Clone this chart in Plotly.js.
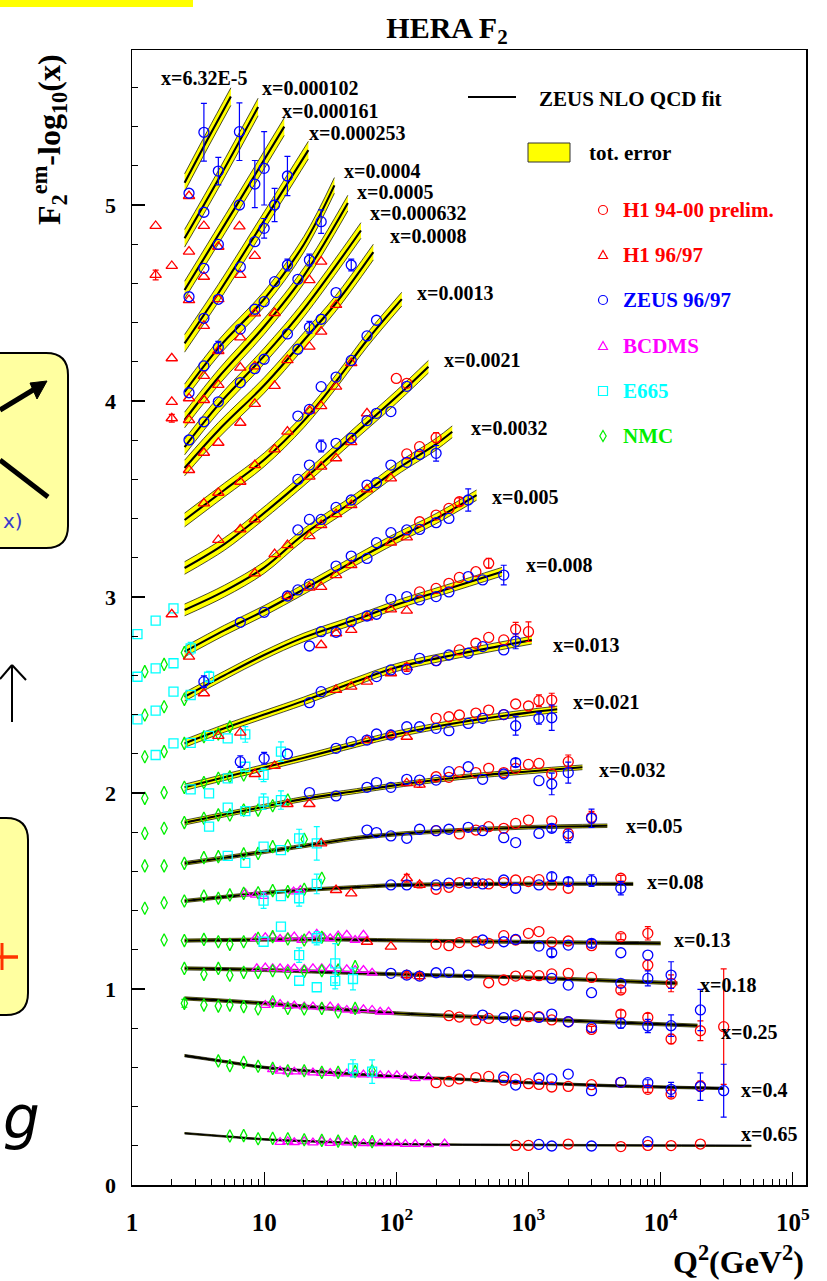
<!DOCTYPE html>
<html>
<head>
<meta charset="utf-8">
<script src="https://cdn.plot.ly/plotly-3.0.1.min.js"></script>
<style>
  html, body { margin: 0; padding: 0; background: #ffffff; }
  #chart { width: 827px; height: 1281px; }
</style>
</head>
<body>
<div id="chart"></div>
<script>
// ---------------- x bins (one fit curve each) ----------------
const xBins = ['6.32E-5', '0.000102', '0.000161', '0.000253', '0.0004', '0.0005', '0.000632', '0.0008',
  '0.0013', '0.0021', '0.0032', '0.005', '0.008', '0.013', '0.021', '0.032', '0.05', '0.08',
  '0.13', '0.18', '0.25', '0.4', '0.65'];

// ZEUS NLO QCD fit, F2 - log10(x) at selected Q2 (GeV^2) for each bin
const fitCurves = [
  [[2.5, 5.114], [3.7, 5.33], [5.6, 5.553]],
  [[2.5, 4.83], [4.5, 5.13], [9, 5.50]],
  [[2.5, 4.566], [6, 4.984], [14.2, 5.40]],
  [[2.5, 4.294], [4.5, 4.55], [10, 4.92], [21.6, 5.28]],
  [[2.5, 4.046], [4.5, 4.27], [10, 4.52], [20, 4.80], [34, 5.10]],
  [[2.5, 3.903], [4.5, 4.12], [10, 4.38], [20, 4.64], [43, 5.01]],
  [[2.5, 3.765], [4.5, 3.98], [10, 4.23], [20, 4.47], [54, 4.87]],
  [[2.5, 3.658], [4.5, 3.85], [10, 4.08], [20, 4.31], [35, 4.50], [67, 4.76]],
  [[2.5, 3.393], [5, 3.546], [10, 3.70], [20, 3.90], [35, 4.10], [60, 4.31], [110, 4.52]],
  [[2.5, 3.148], [5, 3.27], [8.5, 3.39], [20, 3.60], [50, 3.84], [100, 4.02], [175, 4.175]],
  [[2.5, 2.934], [5, 3.03], [10, 3.15], [20, 3.32], [50, 3.50], [100, 3.65], [200, 3.78], [265, 3.843]],
  [[2.5, 2.721], [5, 2.83], [10, 2.93], [20, 3.04], [50, 3.19], [100, 3.30], [200, 3.40], [405, 3.52]],
  [[2.5, 2.491], [5, 2.60], [10, 2.704], [20, 2.794], [50, 2.886], [100, 2.96], [240, 3.04], [630, 3.129]],
  [[2.5, 2.253], [5, 2.33], [10, 2.40], [20, 2.47], [50, 2.57], [100, 2.64], [300, 2.71], [1060, 2.78]],
  [[2.5, 2.029], [5, 2.08], [10, 2.13], [20, 2.18], [50, 2.25], [100, 2.30], [300, 2.36], [1000, 2.41], [1650, 2.427]],
  [[2.5, 1.849], [5, 1.89], [10, 1.93], [20, 1.97], [50, 2.01], [100, 2.04], [300, 2.08], [1000, 2.11], [2560, 2.131]],
  [[2.5, 1.641], [5, 1.67], [10, 1.70], [20, 1.73], [50, 1.77], [100, 1.79], [300, 1.81], [1000, 1.825], [3950, 1.833]],
  [[2.5, 1.449], [5, 1.47], [10, 1.49], [20, 1.505], [50, 1.52], [100, 1.53], [1000, 1.537], [6200, 1.536]],
  [[2.5, 1.247], [10, 1.252], [30, 1.253], [100, 1.248], [1000, 1.24], [10000, 1.233]],
  [[2.5, 1.105], [10, 1.097], [100, 1.075], [1000, 1.058], [13400, 1.029]],
  [[2.5, 0.952], [10, 0.927], [30, 0.901], [100, 0.876], [1000, 0.847], [19000, 0.813]],
  [[2.5, 0.66], [5, 0.63], [10, 0.60], [30, 0.575], [100, 0.553], [300, 0.54], [1000, 0.522], [5000, 0.505], [30000, 0.493]],
  [[2.5, 0.264], [5.5, 0.246], [10, 0.233], [26.5, 0.221], [100, 0.209], [1160, 0.204], [48600, 0.200]]
];

// half width of the total-error band of the fit, per bin
const bandHalfWidth = [0.045, 0.045, 0.045, 0.045, 0.04, 0.04, 0.04, 0.04, 0.035, 0.032, 0.03, 0.026, 0.022,
  0.02, 0.016, 0.012, 0.009, 0.008, 0.008, 0.008, 0.008, 0.006, 0.004];

// where each "x=..." label sits (left edge), in Q2 and F2 - log10(x)
const labelQ2 = [1.60, 9.3, 13.2, 21.2, 39, 48.9, 61.4, 87, 139, 222, 353, 515, 921, 1468, 2081, 3313, 5272,
  7560, 12270, 19300, 27700, 39200, 39200];
const labelY = [5.648, 5.597, 5.480, 5.367, 5.173, 5.066, 4.959, 4.842, 4.553, 4.209, 3.861, 3.512, 3.163,
  2.755, 2.466, 2.117, 1.833, 1.544, 1.250, 1.020, 0.782, 0.486, 0.259];

// ---------------- measurements: [Q2, F2 - log10(x), error] ----------------
const h1Prelim = [
  [800, 0.202], [1000, 0.202], [2000, 0.209], [5000, 0.196], [8000, 0.202], [12000, 0.201], [20000, 0.209],
  [200, 0.522], [250, 0.529], [300, 0.541], [400, 0.548], [500, 0.554], [650, 0.535], [800, 0.540], [1000, 0.517],
  [1200, 0.513], [1500, 0.500], [2000, 0.503], [3000, 0.512], [5000, 0.524], [8000, 0.488, 0.015], [12000, 0.464, 0.02], [20000, 0.505, 0.025],
  [250, 0.864], [300, 0.857], [400, 0.842], [500, 0.850], [800, 0.838], [1000, 0.859], [1200, 0.859], [1500, 0.842],
  [2000, 0.833], [3000, 0.794, 0.015], [5000, 0.872, 0.02], [8000, 0.855, 0.02], [12000, 0.745, 0.024], [20000, 0.787, 0.05], [30000, 0.808, 0.295],
  [500, 1.032], [650, 1.046], [800, 1.066], [1000, 1.068], [1200, 1.068], [1500, 1.077], [2000, 1.080], [3000, 1.059],
  [5000, 0.995, 0.015], [8000, 1.122, 0.025], [12000, 1.029, 0.043],
  [200, 1.228], [250, 1.221], [300, 1.237], [400, 1.241], [500, 1.233], [650, 1.272], [800, 1.250], [1000, 1.284],
  [1200, 1.293], [1500, 1.239], [2000, 1.245], [3000, 1.221], [5000, 1.267, 0.015], [8000, 1.284, 0.034],
  [200, 1.509], [250, 1.519], [300, 1.543], [400, 1.543], [500, 1.536], [650, 1.543], [800, 1.556], [1000, 1.548],
  [1200, 1.558], [1500, 1.531], [2000, 1.514], [5000, 1.565, 0.015],
  [200, 1.808], [300, 1.791], [400, 1.811], [500, 1.828], [650, 1.820], [800, 1.845], [1000, 1.862], [1500, 1.858],
  [2000, 1.794], [3000, 1.876, 0.03],
  [200, 2.083], [250, 2.080], [300, 2.109], [400, 2.104], [500, 2.126], [650, 2.104], [800, 2.126], [1000, 2.146],
  [1200, 2.151], [1500, 2.097], [2000, 2.160, 0.034],
  [200, 2.381], [250, 2.389], [300, 2.398], [400, 2.408], [500, 2.423], [650, 2.40], [800, 2.454], [1000, 2.444],
  [1200, 2.471, 0.03], [1500, 2.474, 0.035],
  [200, 2.675], [300, 2.730], [400, 2.764], [500, 2.794], [650, 2.781], [800, 2.835, 0.036], [1000, 2.823, 0.05],
  [150, 3.026], [200, 3.044], [250, 3.070], [300, 3.100], [400, 3.129], [500, 3.172, 0.025],
  [150, 3.384], [200, 3.418], [250, 3.452], [300, 3.486, 0.02],
  [120, 3.730], [150, 3.767], [200, 3.813, 0.026],
  [100, 4.115], [120, 4.09]
];

const h1_9697 = [
  [120, 1.071, 0.02], [150, 1.066, 0.02],
  [60, 1.241], [91, 1.216],
  [35, 1.505], [45.6, 1.488], [120, 1.565, 0.02], [150, 1.531, 0.015],
  [27, 1.743],
  [15, 1.944], [22, 1.944], [120, 2.05], [150, 2.043, 0.015],
  [4.5, 2.291], [6.6, 2.308], [8.5, 2.097], [12, 2.138], [60, 2.270], [91, 2.296], [120, 2.287],
  [35, 2.526], [45.6, 2.543], [60, 2.568], [91, 2.611], [120, 2.641, 0.02],
  [3.5, 2.509], [27, 2.755], [35, 2.815], [45.6, 2.832], [60, 2.896], [91, 2.937], [120, 2.930],
  [2.0, 2.912], [2.7, 2.696], [15, 3.005], [22, 3.048], [27, 3.052], [35, 3.112], [45.6, 3.163], [91, 3.277], [120, 3.304],
  [4.5, 3.291], [6.6, 3.345], [8.5, 3.396], [8.5, 3.121], [12, 3.219], [15, 3.265], [22, 3.311], [27, 3.367],
  [35, 3.423], [45.6, 3.469], [60, 3.549], [91, 3.605],
  [3.5, 3.478], [4.5, 3.532], [6.6, 3.588], [8.5, 3.673], [12, 3.753], [15, 3.844], [22, 3.614], [22, 3.951],
  [27, 3.665], [27, 3.974], [35, 3.708], [35, 4.073], [45.6, 3.790], [45.6, 4.193], [60, 3.937],
  [2.7, 3.648], [2.7, 3.903], [3.5, 3.736], [3.5, 4.005], [4.5, 3.787], [4.5, 4.082], [6.6, 3.889], [6.6, 4.170],
  [6.6, 4.325], [8.5, 3.985], [8.5, 4.177], [8.5, 4.447], [12, 4.077], [12, 4.449], [15, 4.209], [22, 4.277],
  [27, 4.354], [35, 4.490], [2.0, 3.996], [2.0, 3.912, 0.02], [2.0, 4.218], [2.7, 4.014], [2.7, 4.515], [3.5, 4.128],
  [3.5, 4.383], [4.5, 4.255], [4.5, 4.52], [1.51, 4.643, 0.025], [2.0, 4.689], [2.7, 4.762], [3.5, 4.634],
  [6.6, 4.643], [8.5, 4.740], [22, 4.617], [27, 4.711], [1.51, 4.893], [2.7, 5.046], [3.5, 4.893], [4.5, 4.787], [6.5, 4.891]
];

const zeus9697 = [
  [1200, 0.207], [1500, 0.199], [3000, 0.199], [8000, 0.221],
  [650, 0.551], [800, 0.510], [1200, 0.546], [1500, 0.541], [2000, 0.566], [3000, 0.481], [5000, 0.524],
  [8000, 0.522, 0.015], [12000, 0.488, 0.036], [20000, 0.502, 0.07], [30000, 0.481, 0.135],
  [450, 0.867], [650, 0.854], [800, 0.867], [1200, 0.855], [1500, 0.872], [2000, 0.833], [3000, 0.804],
  [5000, 0.825, 0.025], [8000, 0.811, 0.034], [12000, 0.813, 0.055], [20000, 0.893, 0.105],
  [91, 1.080], [120, 1.071], [150, 1.066], [200, 1.083], [250, 1.085], [350, 1.071], [1500, 1.054], [2000, 1.020],
  [3000, 0.981], [5000, 1.029], [8000, 1.054, 0.038], [12000, 1.071, 0.068],
  [450, 1.250], [650, 1.241], [800, 1.253], [1200, 1.219], [1500, 1.185, 0.02], [2000, 1.224], [3000, 1.233, 0.02],
  [5000, 1.185], [8000, 1.173],
  [91, 1.531], [120, 1.531], [200, 1.531], [250, 1.54], [350, 1.540], [450, 1.536], [650, 1.556], [800, 1.514],
  [1200, 1.531], [1500, 1.573, 0.02], [2000, 1.548, 0.02], [3000, 1.553, 0.03], [5000, 1.514, 0.034],
  [60, 1.811], [70.8, 1.798], [91, 1.781], [120, 1.769], [150, 1.815], [200, 1.808], [250, 1.815], [350, 1.825],
  [450, 1.808], [650, 1.772], [800, 1.747], [1200, 1.794], [1500, 1.820, 0.02], [2000, 1.781, 0.034], [3000, 1.871, 0.047],
  [22, 2.002], [35, 1.985], [60, 2.029], [70.8, 2.053], [91, 2.029], [120, 2.070], [150, 2.066], [200, 2.066],
  [250, 2.109], [350, 2.134], [450, 2.070], [650, 2.097], [800, 2.155, 0.02], [1200, 2.063], [1500, 2.046, 0.055], [2000, 2.104, 0.054],
  [6.6, 2.160, 0.03], [10, 2.177, 0.03], [15, 2.199], [35, 2.228], [45.6, 2.262], [60, 2.27], [70.8, 2.301], [91, 2.296],
  [120, 2.338], [150, 2.338], [200, 2.330], [250, 2.318], [350, 2.355], [450, 2.381], [650, 2.40], [800, 2.343, 0.048],
  [1200, 2.381, 0.03], [1500, 2.384, 0.064],
  [3.5, 2.568, 0.03], [22, 2.461], [27, 2.517], [70.8, 2.594], [91, 2.628], [120, 2.631], [150, 2.687], [200, 2.675],
  [250, 2.704], [350, 2.713], [450, 2.747], [650, 2.730], [800, 2.774, 0.038],
  [22, 2.750], [27, 2.823], [35, 2.82], [45.6, 2.874], [60, 2.903], [70.8, 2.912], [91, 2.988], [120, 3.002],
  [150, 2.985], [200, 3.002], [250, 3.026], [350, 3.104], [450, 3.087], [650, 3.112, 0.05],
  [6.6, 2.871], [10, 2.922], [15, 3.005], [18, 3.036], [22, 3.066], [35, 3.158], [45.6, 3.209], [60, 3.197],
  [70.8, 3.277], [91, 3.328], [120, 3.342], [150, 3.345], [200, 3.379], [250, 3.401], [350, 3.495, 0.057],
  [18, 3.342], [22, 3.396], [27, 3.396], [35, 3.457], [45.6, 3.495], [60, 3.571], [70.8, 3.583], [91, 3.673],
  [120, 3.687], [150, 3.727], [200, 3.733, 0.04],
  [18, 3.600], [22, 3.673], [27, 3.770, 0.03], [35, 3.784], [45.6, 3.810], [60, 3.900], [70.8, 3.937], [91, 3.946], [120, 4.075],
  [18, 3.923], [22, 3.957], [27, 4.073], [35, 4.122], [45.6, 4.207], [60, 4.332], [70.8, 4.412],
  [2.7, 3.801], [3.5, 3.894], [4.5, 3.996], [6.6, 4.094], [8.5, 4.165], [10, 4.213], [15, 4.342], [18, 4.264],
  [22, 4.376, 0.03], [27, 4.417], [2.7, 4.042], [3.5, 4.179], [4.5, 4.274, 0.03], [8.5, 4.468], [10, 4.507],
  [12, 4.609], [15, 4.694, 0.03], [18, 4.621], [22, 4.719, 0.03], [35, 4.553], [45.6, 4.694, 0.03], [2.7, 4.532],
  [3.5, 4.422], [4.5, 4.519], [6.6, 4.367], [3.5, 4.677], [6.6, 4.684],
  [2.7, 5.060], [3.5, 5.371, 0.147], [3.5, 4.963], [4.5, 5.173, 0.07], [4.5, 4.799], [6.5, 5.374, 0.147], [6.5, 5.0],
  [8.5, 5.107, 0.12], [10, 5.187, 0.187], [8.5, 4.813], [10, 4.881, 0.05], [12, 5.0, 0.085], [15, 5.148, 0.1], [27, 4.915, 0.06]
];

const bcdms = [
  [13.2, 0.219], [15.1, 0.223], [16.9, 0.218], [20.1, 0.223], [23.4, 0.216], [27.3, 0.223], [31.6, 0.214], [36.3, 0.219],
  [42.2, 0.216], [48.8, 0.216], [56.4, 0.212], [65.6, 0.212], [75.5, 0.212], [87.3, 0.212], [101, 0.212], [117, 0.209],
  [139, 0.209], [175, 0.207], [232, 0.211],
  [11.6, 0.590], [13.2, 0.582], [15.1, 0.578], [16.9, 0.578], [20.1, 0.578], [23.4, 0.573], [27.3, 0.571], [31.6, 0.571],
  [36.3, 0.568], [42.2, 0.568], [48.8, 0.565], [56.4, 0.563], [65.6, 0.563], [75.5, 0.559], [87.3, 0.559], [101, 0.559],
  [117, 0.552], [139, 0.544], [175, 0.549],
  [10.2, 0.918], [11.6, 0.927], [13.2, 0.923], [15.1, 0.913], [16.9, 0.915], [20.1, 0.910], [23.4, 0.910], [27.3, 0.906],
  [31.6, 0.910], [36.3, 0.901], [42.2, 0.893], [48.8, 0.889], [56.4, 0.896], [65.6, 0.893], [75.5, 0.884], [87.3, 0.884],
  [8.8, 1.105], [10.2, 1.109], [11.6, 1.105], [13.2, 1.105], [15.1, 1.102], [16.9, 1.105], [20.1, 1.102], [23.4, 1.105],
  [27.3, 1.105], [31.6, 1.105], [36.3, 1.102], [42.2, 1.100], [48.8, 1.097], [56.4, 1.097], [65.6, 1.083],
  [8.6, 1.259], [10.2, 1.264], [11.6, 1.267], [13.2, 1.255], [15.1, 1.264], [16.9, 1.267], [19.3, 1.250], [21.9, 1.270],
  [25, 1.281], [28.2, 1.264], [31.6, 1.259], [36.3, 1.272], [42.2, 1.276], [48.8, 1.250], [56.4, 1.276],
  [7.2, 1.488], [8.6, 1.480], [9.9, 1.474], [16.7, 1.497], [18.8, 1.505]
];

const e665 = [
  [1.1, 2.811], [1.51, 2.879], [2.06, 2.942],
  [1.1, 2.593], [1.51, 2.636], [2.06, 2.662], [2.78, 2.738, 0.03],
  [1.1, 2.376], [1.51, 2.420], [2.06, 2.517], [2.78, 2.5], [3.83, 2.593, 0.028],
  [1.51, 2.194], [2.06, 2.253], [2.78, 2.256], [3.83, 2.291], [5.3, 2.279], [7.2, 2.299, 0.04],
  [2.78, 2.019], [3.83, 1.998], [5.3, 2.075], [7.2, 2.134], [9.9, 2.092, 0.034], [13.4, 2.211, 0.05],
  [3.83, 1.828], [5.3, 1.925], [7.2, 1.908], [9.9, 1.956, 0.04], [13.4, 1.964, 0.047],
  [5.3, 1.679], [7.2, 1.644], [9.9, 1.726], [13.4, 1.709], [18.4, 1.769, 0.046], [25, 1.743, 0.085],
  [9.9, 1.451, 0.04], [13.4, 1.474], [18.4, 1.463, 0.04], [25, 1.536, 0.05],
  [9.9, 1.241], [13.4, 1.318], [18.4, 1.173, 0.037], [25, 1.259, 0.034], [34.5, 1.131, 0.1],
  [18.4, 1.042], [25, 1.009], [34.5, 1.041, 0.04], [47, 1.051, 0.055],
  [47, 0.595, 0.044], [65.6, 0.578, 0.06]
];

const nmc = [
  [1.25, 2.619], [1.75, 2.656], [2.49, 2.716],
  [1.25, 2.398], [1.75, 2.440], [2.49, 2.478],
  [1.25, 2.185], [1.75, 2.211], [2.49, 2.253], [3.5, 2.287], [4.5, 2.301], [5.5, 2.338],
  [1.25, 1.973], [1.75, 2.002], [2.49, 2.029], [3.5, 2.053], [4.5, 2.075], [5.5, 2.083], [7, 2.092],
  [1.25, 1.794], [1.75, 1.820], [2.49, 1.849], [3.5, 1.871], [4.5, 1.888], [5.5, 1.888], [7, 1.913], [9, 1.913],
  [11.6, 1.935], [15.1, 1.964],
  [1.25, 1.628], [1.75, 1.628], [2.49, 1.641], [3.5, 1.670], [4.5, 1.675], [7, 1.689], [9, 1.692], [11.6, 1.726],
  [15.1, 1.731], [20.1, 1.764],
  [1.25, 1.412], [1.75, 1.440], [2.49, 1.449], [3.5, 1.474], [4.5, 1.463], [5.5, 1.480], [7, 1.488], [9, 1.491],
  [11.6, 1.502], [15.1, 1.497], [20.1, 1.509], [27.3, 1.565],
  [1.75, 1.25], [2.49, 1.247], [3.5, 1.253], [4.5, 1.241], [5.5, 1.228], [7, 1.241], [9, 1.259], [11.6, 1.267],
  [15.1, 1.255], [20.1, 1.25], [27.3, 1.264], [36.3, 1.253],
  [2.49, 1.105], [3.5, 1.075], [4.5, 1.105], [5.5, 1.070], [7, 1.085], [9, 1.085], [11.6, 1.093], [15.1, 1.083],
  [20.1, 1.090], [27.3, 1.093], [36.3, 1.097], [48.8, 1.114],
  [2.49, 0.927, 0.02], [3.5, 0.918], [4.5, 0.913], [5.5, 0.918], [7, 0.910], [9, 0.898], [11.6, 0.935], [15.1, 0.901],
  [20.1, 0.898], [27.3, 0.901], [36.3, 0.883], [48.8, 0.901],
  [4.5, 0.633], [5.5, 0.609], [7, 0.626], [9, 0.606], [11.6, 0.595], [15.1, 0.583], [20.1, 0.583], [27.3, 0.575],
  [36.3, 0.575], [48.8, 0.578], [65.6, 0.583],
  [5.5, 0.250], [7, 0.252], [9, 0.236], [11.6, 0.238], [15.1, 0.236], [20.1, 0.231], [27.3, 0.228], [36.3, 0.224],
  [48.8, 0.221], [65.6, 0.221]
];

// ---------------- colours and fonts ----------------
const RED = '#ff0000', BLUE = '#0000ff', MAGENTA = '#ff00ff', CYAN = '#00ffff', GREEN = '#00ee00';
const SERIF = 'Liberation Serif, Times New Roman, serif';

// ---------------- traces ----------------
const traces = [];

// yellow error bands with thin black edges
fitCurves.forEach((c, i) => {
  const q = c.map(p => p[0]);
  traces.push({
    x: q, y: c.map(p => p[1] - bandHalfWidth[i]), mode: 'lines',
    line: { color: '#000', width: 0.7, shape: 'spline' }, hoverinfo: 'skip'
  });
  traces.push({
    x: q, y: c.map(p => p[1] + bandHalfWidth[i]), mode: 'lines', fill: 'tonexty', fillcolor: '#ffff00',
    line: { color: '#000', width: 0.7, shape: 'spline' }, hoverinfo: 'skip'
  });
});

// central fit lines
fitCurves.forEach((c, i) => {
  traces.push({
    x: c.map(p => p[0]), y: c.map(p => p[1]), mode: 'lines',
    line: { color: '#000', width: i === fitCurves.length - 1 ? 1.6 : 2.1, shape: 'spline' }, hoverinfo: 'skip'
  });
});

function dataTrace(rows, symbol, color, size) {
  return {
    x: rows.map(r => r[0]), y: rows.map(r => r[1]), mode: 'markers',
    marker: { symbol: symbol, size: size, color: color, line: { width: 1.3 } },
    error_y: {
      type: 'data', visible: true, color: color, thickness: 1.2, width: 3,
      array: rows.map(r => (r[2] ? r[2] : NaN))
    },
    hoverinfo: 'skip'
  };
}

traces.push(dataTrace(bcdms, 'triangle-up-open', MAGENTA, 9));
traces.push(dataTrace(nmc, 'diamond-tall-open', GREEN, 9));
traces.push(dataTrace(e665, 'square-open', CYAN, 9));
traces.push(dataTrace(h1_9697, 'triangle-up-open', RED, 10));
traces.push(dataTrace(h1Prelim, 'circle-open', RED, 10));
traces.push(dataTrace(zeus9697, 'circle-open', BLUE, 10));

// ---------------- page geometry helpers (pixel -> paper) ----------------
const PL = 132, PT = 50, PW = 674, PH = 1135;
const fx = px => (px - PL) / PW;
const fy = py => (PT + PH - py) / PH;

function roundedBox(x0, y0, x1, y1, r) {
  const dx = r / PW, dy = r / PH;
  const a = fx(x0), b = fx(x1), t = fy(y0), u = fy(y1);
  return `M ${a + dx} ${t} L ${b - dx} ${t} Q ${b} ${t} ${b} ${t - dy} L ${b} ${u + dy} Q ${b} ${u} ${b - dx} ${u} ` +
    `L ${a + dx} ${u} Q ${a} ${u} ${a} ${u + dy} L ${a} ${t - dy} Q ${a} ${t} ${a + dx} ${t} Z`;
}

function seg(x0, y0, x1, y1, color, width) {
  return { type: 'line', xref: 'paper', yref: 'paper', x0: fx(x0), y0: fy(y0), x1: fx(x1), y1: fy(y1),
    line: { color: color, width: width } };
}

function pixelShape(px, py, extra) {
  return Object.assign({ xref: 'paper', yref: 'paper', xsizemode: 'pixel', ysizemode: 'pixel',
    xanchor: fx(px), yanchor: fy(py) }, extra);
}

// ---------------- legend and surrounding decorations ----------------
const legendRows = [
  { name: 'H1 94-00 prelim.', color: RED, kind: 'circle', py: 210 },
  { name: 'H1 96/97', color: RED, kind: 'triangle', py: 255 },
  { name: 'ZEUS 96/97', color: BLUE, kind: 'circle', py: 300 },
  { name: 'BCDMS', color: MAGENTA, kind: 'triangle', py: 346 },
  { name: 'E665', color: CYAN, kind: 'square', py: 391 },
  { name: 'NMC', color: GREEN, kind: 'diamond', py: 436 }
];

const shapes = [];
const annotations = [];

// fit legend
shapes.push(seg(468, 97, 516, 97, '#000', 2));
shapes.push({ type: 'rect', xref: 'paper', yref: 'paper', x0: fx(528), x1: fx(570), y0: fy(162), y1: fy(143),
  fillcolor: '#ffff00', line: { color: '#333', width: 1 } });
annotations.push({ xref: 'paper', yref: 'paper', x: fx(537), y: fy(99), xanchor: 'left', yanchor: 'middle',
  text: 'ZEUS NLO QCD fit', showarrow: false, font: { family: SERIF, size: 21, color: '#000', weight: 'bold' } });
annotations.push({ xref: 'paper', yref: 'paper', x: fx(587), y: fy(153), xanchor: 'left', yanchor: 'middle',
  text: 'tot. error', showarrow: false, font: { family: SERIF, size: 21, color: '#000', weight: 'bold' } });

legendRows.forEach(r => {
  const ln = { color: r.color, width: 1.2 };
  if (r.kind === 'circle') {
    shapes.push(pixelShape(603, r.py, { type: 'circle', x0: -4.5, x1: 4.5, y0: -4.5, y1: 4.5, line: ln }));
  } else if (r.kind === 'triangle') {
    shapes.push(pixelShape(603, r.py, { type: 'path', path: 'M -4.5 -3.5 L 4.5 -3.5 L 0 4.5 Z', line: ln }));
  } else if (r.kind === 'square') {
    shapes.push(pixelShape(603, r.py, { type: 'rect', x0: -4.5, x1: 4.5, y0: -4.5, y1: 4.5, line: ln }));
  } else {
    shapes.push(pixelShape(603, r.py, { type: 'path', path: 'M 0 5.5 L 3.2 0 L 0 -5.5 L -3.2 0 Z', line: ln }));
  }
  annotations.push({ xref: 'paper', yref: 'paper', x: fx(621), y: fy(r.py), xanchor: 'left', yanchor: 'middle',
    text: r.name, showarrow: false, font: { family: SERIF, size: 21, color: r.color, weight: 'bold' } });
});

// bin labels
xBins.forEach((b, i) => {
  annotations.push({ x: Math.log10(labelQ2[i]), y: labelY[i], xref: 'x', yref: 'y', xanchor: 'left', yanchor: 'middle',
    text: 'x=' + b, showarrow: false, font: { family: SERIF, size: 20, color: '#000', weight: 'bold' } });
});

// axis titles
annotations.push({ xref: 'paper', yref: 'paper', x: fx(50), y: fy(140), xanchor: 'center', yanchor: 'middle',
  textangle: -90, showarrow: false, text: 'F<sub>2</sub><sup>em</sup>-log<sub>10</sub>(x)',
  font: { family: SERIF, size: 32, color: '#000', weight: 'bold' } });
annotations.push({ xref: 'paper', yref: 'paper', x: fx(806), y: fy(1260), xanchor: 'right', yanchor: 'middle',
  showarrow: false, text: 'Q<sup>2</sup>(GeV<sup>2</sup>)',
  font: { family: SERIF, size: 32, color: '#000', weight: 'bold' } });

// neighbouring panel pieces at the left edge of the page
shapes.push({ type: 'rect', xref: 'paper', yref: 'paper', x0: fx(0), x1: fx(193), y0: fy(7), y1: fy(0),
  fillcolor: '#ffff00', line: { width: 0 } });
shapes.push({ type: 'path', xref: 'paper', yref: 'paper', path: roundedBox(-30, 353, 68, 548, 22),
  fillcolor: '#ffffa0', line: { color: '#000', width: 2 } });
shapes.push(seg(0, 410, 38, 387, '#000', 5));
shapes.push({ type: 'path', xref: 'paper', yref: 'paper',
  path: `M ${fx(47)} ${fy(381)} L ${fx(30)} ${fy(383)} L ${fx(37)} ${fy(399)} Z`,
  fillcolor: '#000', line: { color: '#000', width: 1 } });
shapes.push(seg(0, 460, 48, 497, '#000', 5));
annotations.push({ xref: 'paper', yref: 'paper', x: fx(1), y: fy(521), xanchor: 'left', yanchor: 'middle',
  text: 'x)', showarrow: false, font: { family: 'DejaVu Sans, sans-serif', size: 20, color: '#3a3acc' } });
shapes.push(seg(12, 666, 12, 722, '#000', 2));
shapes.push(seg(0, 679, 12, 665, '#000', 2));
shapes.push(seg(12, 665, 26, 680, '#000', 2));
shapes.push({ type: 'path', xref: 'paper', yref: 'paper', path: roundedBox(-30, 818, 28, 1015, 22),
  fillcolor: '#ffffa0', line: { color: '#000', width: 2 } });
shapes.push(seg(0, 957, 18, 957, '#ff3300', 3.5));
shapes.push(seg(2, 943, 2, 970, '#ff3300', 3));
annotations.push({ xref: 'paper', yref: 'paper', x: fx(1), y: fy(1118), xanchor: 'left', yanchor: 'middle',
  text: 'g', showarrow: false, font: { family: 'DejaVu Sans, sans-serif', size: 58, color: '#000', style: 'italic' } });

// ---------------- axes ----------------
const minorX = [];
for (let k = 0; k < 5; k++) for (let d = 2; d <= 9; d++) minorX.push(d * Math.pow(10, k));

const layout = {
  width: 827, height: 1281,
  margin: { l: PL, r: 827 - PL - PW, t: PT, b: 1281 - PT - PH, pad: 0 },
  paper_bgcolor: '#ffffff', plot_bgcolor: '#ffffff',
  showlegend: false, hovermode: false,
  title: { text: 'HERA F<sub>2</sub>', x: 447 / 827, xanchor: 'center', y: 1 - 27 / 1281, yanchor: 'middle',
    font: { family: SERIF, size: 30, color: '#000', weight: 'bold' } },
  xaxis: {
    type: 'log', range: [0, 5.1], showgrid: false, zeroline: false,
    showline: true, mirror: true, linecolor: '#000', linewidth: 1.5,
    ticks: 'inside', ticklen: 13, tickwidth: 1.2, tickcolor: '#000',
    tickvals: [1, 10, 100, 1000, 10000, 100000],
    ticktext: ['1', '10', '10<sup>2</sup>', '10<sup>3</sup>', '10<sup>4</sup>', '10<sup>5</sup>'],
    tickfont: { family: SERIF, size: 25, color: '#000', weight: 'bold' },
    ticklabelstandoff: 14,
    minor: { tickvals: minorX, ticks: 'inside', ticklen: 6, tickwidth: 1, tickcolor: '#000' }
  },
  yaxis: {
    range: [0, PH / 196], showgrid: false, zeroline: false,
    showline: true, mirror: true, linecolor: '#000', linewidth: 1.5,
    ticks: 'inside', ticklen: 13, tickwidth: 1.2, tickcolor: '#000',
    tickvals: [0, 1, 2, 3, 4, 5], ticktext: ['0', '1', '2', '3', '4', '5'],
    tickfont: { family: SERIF, size: 22, color: '#000', weight: 'bold' },
    ticklabelstandoff: 10,
    minor: { dtick: 0.2, tick0: 0, ticks: 'inside', ticklen: 6, tickwidth: 1, tickcolor: '#000' }
  },
  shapes: shapes,
  annotations: annotations
};

Plotly.newPlot('chart', traces, layout, { staticPlot: true, displayModeBar: false });
</script>
</body>
</html>
